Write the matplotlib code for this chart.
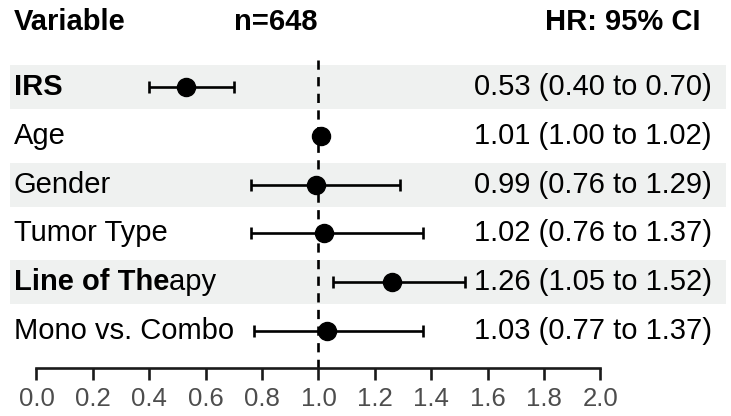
import numpy as np
import matplotlib
matplotlib.use("Agg")
import matplotlib.pyplot as plt
from matplotlib.ticker import FormatStrFormatter

plt.rcParams['font.family'] = ['Liberation Sans', 'DejaVu Sans']

# data
variables = ['IRS', 'Age', 'Gender', 'Tumor Type', 'Line of Therapy', 'Mono vs. Combo']
bold_overlay = ['IRS', '', '', '', 'Line of The', '']
hr = np.array([0.53, 1.01, 0.99, 1.02, 1.26, 1.03])
ci_low = np.array([0.40, 1.00, 0.76, 0.76, 1.05, 0.77])
ci_high = np.array([0.70, 1.02, 1.29, 1.37, 1.52, 1.37])
n_total = 648
ticks = np.arange(0, 2.01, 0.2)

rows = np.arange(len(variables))
band = '#eff1f0'

fig = plt.figure(figsize=(7.31, 4.16), dpi=100)
ax = fig.add_axes([0, 0, 1, 1])
ax.set_xlim(-0.1294, 2.4628)
ax.set_ylim(6.742, -1.783)

# alternating row shading
for i in rows[::2]:
    ax.axhspan(i - 0.45, i + 0.45, xmin=0.0135, xmax=0.993, color=band, lw=0, zorder=0)

# reference line at HR = 1
ax.plot([1, 1], [-0.553, 5.758], color='black', lw=1.9, ls=(0, (3.5, 2.8)), zorder=1)

ax.errorbar(hr, rows, xerr=[hr - ci_low, ci_high - hr], fmt='o', color='black',
            ms=13, elinewidth=1.9, capsize=4, capthick=1.9, zorder=3)

for i, name in enumerate(variables):
    ax.text(-0.0798, i, name, ha='left', va='center', fontsize=21, color='black', zorder=4)
    if bold_overlay[i]:
        bg = band if i % 2 == 0 else 'white'
        ax.text(-0.0798, i, bold_overlay[i], ha='left', va='center', fontsize=21,
                fontweight='bold', color='black', zorder=5,
                bbox=dict(boxstyle='square,pad=0', fc=bg, ec='none'))
    label = f"{hr[i]:.2f} ({ci_low[i]:.2f} to {ci_high[i]:.2f})"
    ax.text(2.395, i, label, ha='right', va='center', fontsize=21, color='black')

# header
ax.text(-0.0798, -1.332, 'Variable', ha='left', va='center', fontsize=21, fontweight='bold')
ax.text(0.8475, -1.332, f'n={n_total}', ha='center', va='center', fontsize=21, fontweight='bold')
ax.text(2.3564, -1.332, 'HR: 95% CI', ha='right', va='center', fontsize=21, fontweight='bold')

# x axis
for s in ['top', 'left', 'right']:
    ax.spines[s].set_visible(False)
ax.spines['bottom'].set_position(('data', 5.758))
ax.spines['bottom'].set_bounds(0, 2)
ax.spines['bottom'].set_linewidth(1.9)
ax.spines['bottom'].set_color('#1a1a1a')
ax.set_xticks(ticks)
ax.xaxis.set_major_formatter(FormatStrFormatter('%.1f'))
ax.tick_params(axis='x', direction='out', length=8.6, width=1.9, color='#1a1a1a',
               pad=5, labelsize=18.5, labelcolor='#4d4d4d')
ax.set_yticks([])
ax.patch.set_visible(False)

fig.savefig('out.png', dpi=100)
